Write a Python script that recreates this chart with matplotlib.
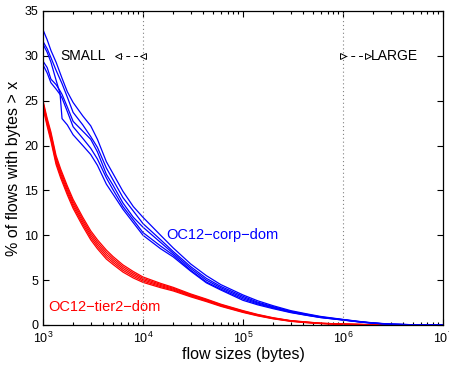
import matplotlib
matplotlib.use("Agg")
import matplotlib.pyplot as plt
from matplotlib.ticker import LogLocator, NullFormatter

plt.rcParams['font.family'] = ['Liberation Sans', 'DejaVu Sans']
plt.rcParams['mathtext.fontset'] = 'custom'
plt.rcParams['mathtext.rm'] = 'Liberation Sans'
plt.rcParams['mathtext.it'] = 'Liberation Sans:italic'

# flow size grid (bytes) for OC12-corp-dom curves
corp_sizes = [1e3, 1.1e3, 1.2e3, 1.35e3, 1.48e3, 1.55e3, 1.75e3, 2e3, 2.5e3, 3e3,
              3.5e3, 4.3e3, 5e3, 6.3e3, 8e3, 1e4, 1.5e4, 2e4, 3e4, 4.3e4,
              6e4, 1e5, 1.4e5, 2e5, 3e5, 4.3e5, 6e5, 1e6, 1.5e6, 2e6,
              3e6, 5e6, 1e7]

# OC12-corp-dom (blue) curves, % of flows with bytes > x
corp_1 = [32.9, 31.8, 30.6, 29.3, 28.1, 27.5, 26.0, 24.8, 23.3, 22.2,
          20.7, 18.2, 16.9, 14.9, 13.2, 12.0, 10.0, 8.6, 6.8, 5.5,
          4.5, 3.35, 2.7, 2.15, 1.6, 1.25, 0.95, 0.62, 0.38, 0.24,
          0.1, 0.03, 0.0]
corp_2 = [31.6, 30.8, 29.8, 28.4, 27.4, 26.9, 25.4, 23.7, 22.3, 21.0,
          19.8, 17.5, 16.2, 14.2, 12.7, 11.3, 9.5, 8.2, 6.5, 5.2,
          4.3, 3.2, 2.55, 2.05, 1.52, 1.2, 0.9, 0.6, 0.36, 0.22,
          0.09, 0.03, 0.0]
corp_3 = [31.3, 30.4, 29.3, 27.3, 25.8, 23.0, 22.3, 21.2, 20.0, 19.0,
          17.8, 15.7, 14.6, 12.9, 11.4, 10.0, 8.5, 7.6, 6.0, 4.7,
          3.9, 2.75, 2.25, 1.82, 1.38, 1.08, 0.82, 0.55, 0.32, 0.2,
          0.08, 0.02, 0.0]
corp_4 = [29.4, 28.7, 27.4, 26.8, 26.1, 25.7, 24.3, 22.7, 21.6, 20.7,
          19.3, 16.8, 15.6, 13.6, 12.0, 10.9, 9.2, 8.0, 6.3, 5.0,
          4.15, 3.05, 2.45, 1.97, 1.47, 1.15, 0.87, 0.58, 0.34, 0.21,
          0.09, 0.03, 0.0]
corp_5 = [29.0, 28.1, 27.0, 26.3, 25.7, 25.3, 23.8, 22.1, 20.8, 19.7,
          18.5, 16.4, 15.1, 13.2, 11.7, 10.3, 8.8, 7.8, 6.1, 4.8,
          4.0, 2.9, 2.35, 1.9, 1.42, 1.1, 0.84, 0.56, 0.33, 0.2,
          0.08, 0.02, 0.0]

# flow size grid (bytes) for OC12-tier2-dom curves
tier2_sizes = [1e3, 1.1e3, 1.2e3, 1.35e3, 1.5e3, 1.75e3, 2e3, 2.5e3, 3e3, 3.5e3,
               4.3e3, 5e3, 6.3e3, 8e3, 1e4, 1.5e4, 2e4, 3e4, 4.3e4, 6e4,
               1e5, 1.4e5, 2e5, 3e5, 4.3e5, 6e5, 1e6, 2e6, 5e6, 1e7]

# OC12-tier2-dom (red) curves
tier2_1 = [25.0, 23.04, 21.5, 18.9, 17.4, 15.5, 14.0, 12.0, 10.5, 9.5,
           8.35, 7.64, 6.7, 5.96, 5.35, 4.64, 4.2, 3.46, 2.89, 2.32,
           1.6, 1.18, 0.81, 0.49, 0.34, 0.2, 0.11, 0.03, 0.005, 0.0]
tier2_2 = [24.8, 22.82, 21.25, 18.65, 17.15, 15.25, 13.75, 11.75, 10.25, 9.25,
           8.1, 7.42, 6.5, 5.78, 5.2, 4.52, 4.1, 3.38, 2.82, 2.26,
           1.55, 1.14, 0.78, 0.47, 0.32, 0.19, 0.1, 0.03, 0.005, 0.0]
tier2_3 = [24.6, 22.6, 21.0, 18.4, 16.9, 15.0, 13.5, 11.5, 10.0, 9.0,
           7.85, 7.2, 6.3, 5.6, 5.05, 4.4, 4.0, 3.3, 2.75, 2.2,
           1.5, 1.1, 0.75, 0.45, 0.3, 0.18, 0.09, 0.03, 0.005, 0.0]
tier2_4 = [24.4, 22.38, 20.75, 18.15, 16.65, 14.75, 13.25, 11.25, 9.75, 8.75,
           7.6, 6.98, 6.1, 5.42, 4.9, 4.28, 3.9, 3.22, 2.68, 2.14,
           1.45, 1.06, 0.72, 0.43, 0.28, 0.17, 0.08, 0.03, 0.005, 0.0]
tier2_5 = [24.2, 22.16, 20.5, 17.9, 16.4, 14.5, 13.0, 11.0, 9.5, 8.5,
           7.35, 6.76, 5.9, 5.24, 4.75, 4.16, 3.8, 3.14, 2.61, 2.08,
           1.4, 1.02, 0.69, 0.41, 0.26, 0.16, 0.07, 0.03, 0.005, 0.0]

corp_curves = [corp_1, corp_2, corp_3, corp_4, corp_5]
tier2_curves = [tier2_1, tier2_2, tier2_3, tier2_4, tier2_5]

fig = plt.figure(figsize=(4.49, 3.65), dpi=100)
ax = fig.add_axes([0.0958, 0.1096, 0.8908, 0.8603])

for c in tier2_curves:
    ax.plot(tier2_sizes, c, color='#FF0000', lw=0.9)
for c in corp_curves:
    ax.plot(corp_sizes, c, color='#0000FF', lw=0.9)

ax.set_xscale('log')
ax.set_xlim(1e3, 1e7)
ax.set_ylim(0, 35)
ax.set_yticks(range(0, 36, 5))

# thresholds
for xv in [1e4, 1e6]:
    ax.plot([xv, xv], [0, 35], color='#808080', lw=0.8, ls=(0, (1, 2.5)))

# SMALL / LARGE annotations
ax.plot([5.6e3, 1e4], [30, 30], color='black', lw=0.7, ls=(0, (4, 4)))
ax.plot([5.6e3, 1e4], [30, 30], ls='none', marker='<', ms=5, mfc='white', mec='black', mew=0.7)
ax.text(1.5e3, 30, 'SMALL', fontsize=10, va='center', ha='left')
ax.plot([1e6, 1.78e6], [30, 30], color='black', lw=0.7, ls=(0, (4, 4)))
ax.plot([1e6, 1.78e6], [30, 30], ls='none', marker='>', ms=5, mfc='white', mec='black', mew=0.7)
ax.text(1.88e6, 30, 'LARGE', fontsize=10, va='center', ha='left')

ax.text(1.7e4, 10.0, 'OC12\u2212corp\u2212dom', color='#0000FF', fontsize=10.5, va='center', ha='left')
ax.text(1.12e3, 2.0, 'OC12\u2212tier2\u2212dom', color='#FF0000', fontsize=10.5, va='center', ha='left')

ax.set_xlabel('flow sizes (bytes)', fontsize=11.5, labelpad=1)
ax.set_ylabel('% of flows with bytes > x', fontsize=11.5, labelpad=2)

ax.xaxis.set_major_locator(LogLocator(base=10, numticks=10))
ax.xaxis.set_minor_locator(LogLocator(base=10, subs=range(2, 10), numticks=100))
ax.xaxis.set_minor_formatter(NullFormatter())
ax.tick_params(which='both', direction='in', top=True, right=True, labelsize=9, width=0.8)
ax.tick_params(which='major', length=4)
ax.tick_params(which='minor', length=2.5)
ax.tick_params(axis='x', pad=4)
for s in ax.spines.values():
    s.set_linewidth(0.9)

fig.savefig('out.png', dpi=100)
